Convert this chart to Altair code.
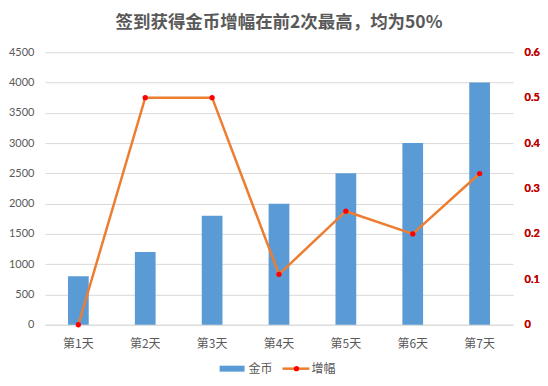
import altair as alt
import pandas as pd

days = ["第1天", "第2天", "第3天", "第4天", "第5天", "第6天", "第7天"]
coins = [800, 1200, 1800, 2000, 2500, 3000, 4000]
growth = [0, 0.5, 0.5, 0.111, 0.25, 0.2, 0.333]
legend_labels = ["金币", "增幅"]
left_ticks = [0, 500, 1000, 1500, 2000, 2500, 3000, 3500, 4000, 4500]
right_ticks = [0, 0.1, 0.2, 0.3, 0.4, 0.5, 0.6]

df = pd.DataFrame({"day": days, "coins": coins, "growth": growth})

GRAY = "#595959"
CJK = "Noto Sans CJK SC"

x = alt.X(
    "day:N", sort=days, title=None,
    scale=alt.Scale(paddingInner=0.69, paddingOuter=0.345),
    axis=alt.Axis(labelAngle=0, ticks=False, domainColor="#d9d9d9",
                  labelColor=GRAY, labelFont=CJK, labelFontSize=12,
                  labelPadding=14),
)

bars = alt.Chart(df).mark_bar(color="#5b9bd5").encode(
    x=x,
    y=alt.Y("coins:Q", title=None, scale=alt.Scale(domain=[0, 4500], nice=False),
            axis=alt.Axis(values=left_ticks, format="d", domain=False, ticks=False,
                          gridColor="#d9d9d9", labelColor=GRAY, labelFontSize=11,
                          labelFont="Lato", labelPadding=11)),
)

y2 = alt.Y("growth:Q", title=None, scale=alt.Scale(domain=[0, 0.6], nice=False),
           axis=alt.Axis(orient="right", values=right_ticks, format="~g", grid=False,
                         domain=False, ticks=False, labelColor="#c00000",
                         labelFontWeight="bold", labelFontSize=11, labelFont="Lato",
                         labelPadding=11))

line = alt.Chart(df).mark_line(color="#ed7d31", strokeWidth=2.5).encode(x=x, y=y2)
pts = alt.Chart(df).mark_circle(color="#ff0000", size=28, opacity=1).encode(x=x, y=y2)

one = pd.DataFrame({"k": [0]})
leg_rect = alt.Chart(one).mark_rect(color="#5b9bd5").encode(
    x=alt.value(175), x2=alt.value(200), y=alt.value(314), y2=alt.value(320))
leg_t1 = alt.Chart(one).mark_text(align="left", baseline="middle", font=CJK,
                                  fontSize=12, color=GRAY).encode(
    x=alt.value(204), y=alt.value(317), text=alt.value(legend_labels[0]))
leg_line = alt.Chart(one).mark_rule(color="#ed7d31", strokeWidth=2.5).encode(
    x=alt.value(238), x2=alt.value(265), y=alt.value(317))
leg_dot = alt.Chart(one).mark_circle(color="#ff0000", size=28, opacity=1).encode(
    x=alt.value(252), y=alt.value(317))
leg_t2 = alt.Chart(one).mark_text(align="left", baseline="middle", font=CJK,
                                  fontSize=12, color=GRAY).encode(
    x=alt.value(267), y=alt.value(317), text=alt.value(legend_labels[1]))

chart = alt.layer(
    bars, line, pts, leg_rect, leg_t1, leg_line, leg_dot, leg_t2
).resolve_scale(y="independent").properties(
    width=469, height=273,
    padding={"left": 0, "right": 0, "top": 5, "bottom": 0},
    title=alt.TitleParams("签到获得金币增幅在前2次最高，均为50%", font=CJK, fontSize=17.5,
                          fontWeight="bold", color=GRAY, anchor="middle", offset=15),
    background="white",
).configure_view(stroke=None)

chart.save("out.html", embed_options={"renderer": "svg", "actions": False})
